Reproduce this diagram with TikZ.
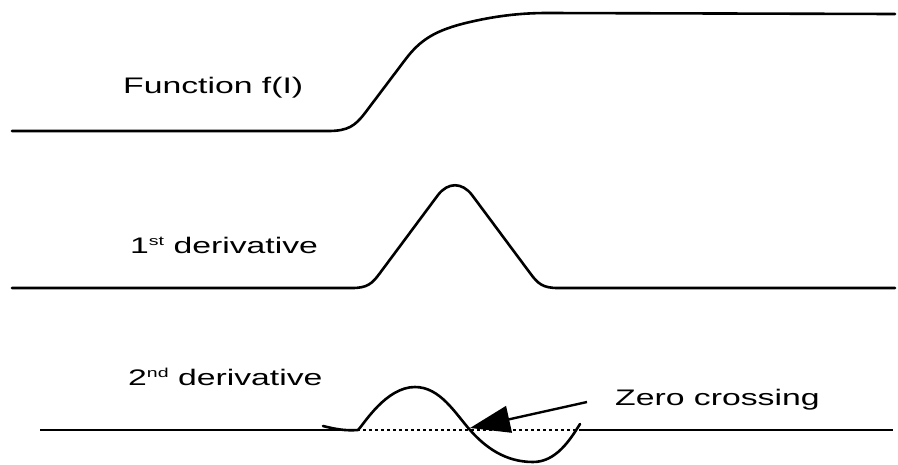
\documentclass[tikz,border=0pt]{standalone}
\usepackage{fontspec}
\newfontfamily\labfont[FakeStretch=1.5]{Liberation Sans}
\usetikzlibrary{arrows.meta}
\tikzset{
  curve/.style={line width=2.6pt, line join=round, line cap=round},
  baseline/.style={line width=2.3pt},
  dotline/.style={line width=2.3pt, dash pattern=on 2.8pt off 3.2pt},
  lab/.style={anchor=base west, inner sep=0pt, font=\labfont\fontsize{22.5}{26}\selectfont},
  pointer/.style={line width=2.4pt, -{Triangle[length=40pt,width=27pt]}}
}
\newcommand{\supr}[1]{\raisebox{7.5pt}{\fontsize{13}{13}\selectfont #1}}
\begin{document}
\begin{tikzpicture}[x=1pt,y=-1pt]
\useasboundingbox (0,0) rectangle (898,464);
% Function f(I)
\node[lab] (ftext) at (123,93) {Function f(I)};
\draw[curve] (12,131) -- (328,131)
  .. controls (348,131) and (355,126) .. (365,113)
  -- (405,60)
  .. controls (420,40) and (435,30) .. (470,22)
  .. controls (500,15) and (525,13) .. (547,13)
  -- (895,14);
% 1st derivative
\node[lab] (d1text) at (130,253) {1\supr{st} derivative};
\draw[curve] (12,288) -- (352,288)
  .. controls (367,288) and (372,284) .. (380,273)
  -- (438,195)
  .. controls (448,182) and (462,182) .. (472,195)
  -- (530,273)
  .. controls (538,284) and (543,288) .. (558,288)
  -- (895,288);
% 2nd derivative
\node[lab] (d2text) at (128,385) {2\supr{nd} derivative};
\draw[baseline] (40,430) -- (357,430);
\draw[dotline] (357,430) -- (578,430);
\draw[baseline] (579,430) -- (893,430);
\draw[curve] (323,426) .. controls (335,429) and (345,431) .. (358,430)
  .. controls (364,424) and (386,387) .. (415,387)
  .. controls (440,387) and (455,413) .. (470,430)
  .. controls (485,447) and (505,462) .. (533,462)
  .. controls (556,462) and (570,440) .. (580,424);
% Zero crossing
\node[lab] (zctext) at (615,405) {Zero crossing};
\coordinate (zc) at (470,428);
\coordinate (arrstart) at (587,402);
\draw[pointer] (arrstart) -- (zc);
\end{tikzpicture}
\end{document}
